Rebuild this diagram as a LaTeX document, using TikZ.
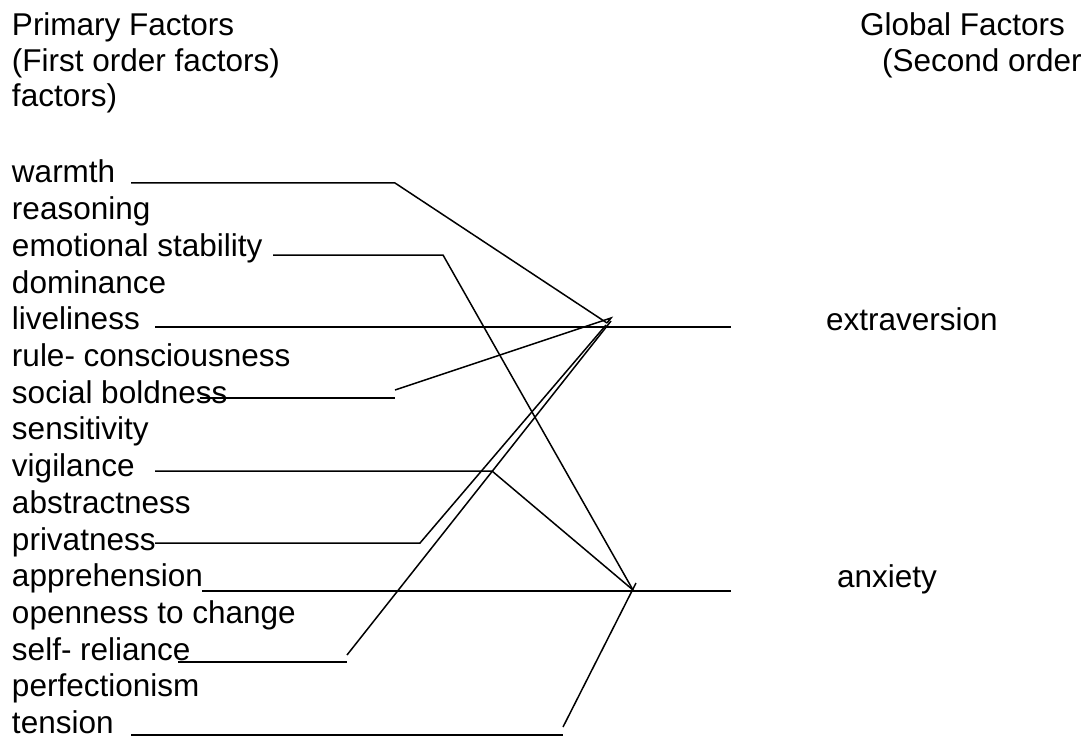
\documentclass[tikz,border=0pt]{standalone}
\usepackage{fontspec}
\setmainfont{Liberation Sans}
\begin{document}
\begin{tikzpicture}[x=1pt,y=-1pt,
  lbl/.style={anchor=base west,inner sep=0pt,outer sep=0pt,
    font=\fontsize{31.5}{36}\selectfont},
  wire/.style={line width=1.5pt,line join=miter}]
\useasboundingbox (0,0) rectangle (1089,738);

% column headings
\node[lbl] (hPrim)  at (12,36)  {Primary Factors};
\node[lbl] (hPrim2) at (12,72)  {(First order factors)};
\node[lbl] (hPrim3) at (12,107) {factors)};
\node[lbl] (hGlob)  at (860,36) {Global Factors};
\node[lbl] (hGlob2) at (882,72) {(Second order};

% primary factors
\node[lbl] (f1)  at (12,183.0) {warmth};
\node[lbl] (f2)  at (12,219.7) {reasoning};
\node[lbl] (f3)  at (12,256.4) {emotional stability};
\node[lbl] (f4)  at (12,293.1) {dominance};
\node[lbl] (f5)  at (12,329.8) {liveliness};
\node[lbl] (f6)  at (12,366.5) {rule- consciousness};
\node[lbl] (f7)  at (12,403.2) {social boldness};
\node[lbl] (f8)  at (12,439.9) {sensitivity};
\node[lbl] (f9)  at (12,476.6) {vigilance};
\node[lbl] (f10) at (12,513.3) {abstractness};
\node[lbl] (f11) at (12,550.0) {privatness};
\node[lbl] (f12) at (12,586.7) {apprehension};
\node[lbl] (f13) at (12,623.4) {openness to change};
\node[lbl] (f14) at (12,660.1) {self- reliance};
\node[lbl] (f15) at (12,696.8) {perfectionism};
\node[lbl] (f16) at (12,733.5) {tension};

% global factors
\node[lbl] (gE) at (826,330) {extraversion};
\node[lbl] (gA) at (837,587) {anxiety};

% junction points and line ends
\coordinate (E)  at (607,323);
\coordinate (A)  at (633,590);
\coordinate (Eo) at (731,327);
\coordinate (Ao) at (731,591);

\coordinate (w0) at (131,183);  \coordinate (w1) at (395,183);
\coordinate (s0) at (273,255);  \coordinate (s1) at (443,255);
\coordinate (l0) at (155,327);
\coordinate (b0) at (200,398);  \coordinate (b1) at (395,398);
\coordinate (b2) at (395,390);  \coordinate (b3) at (611,318);
\coordinate (v0) at (155,471);  \coordinate (v1) at (492,471);
\coordinate (p0) at (155,543);  \coordinate (p1) at (420,543);
\coordinate (p2) at (606,325);
\coordinate (a0) at (202,591);
\coordinate (r0) at (178,662);  \coordinate (r1) at (347,662);
\coordinate (r2) at (347,655);  \coordinate (r3) at (611,321);
\coordinate (t0) at (131,735);  \coordinate (t1) at (563,735);
\coordinate (t2) at (563,727);  \coordinate (t3) at (636,583);

% connectors
\draw[wire] (w0) -- (w1) -- (E);
\draw[wire] (s0) -- (s1) -- (A);
\draw[wire] (l0) -- (Eo);
\draw[wire] (b0) -- (b1);
\draw[wire] (b2) -- (b3) -- (E);
\draw[wire] (v0) -- (v1) -- (A);
\draw[wire] (p0) -- (p1) -- (p2);
\draw[wire] (a0) -- (Ao);
\draw[wire] (r0) -- (r1);
\draw[wire] (r2) -- (r3);
\draw[wire] (t0) -- (t1);
\draw[wire] (t2) -- (t3);
\end{tikzpicture}
\end{document}
